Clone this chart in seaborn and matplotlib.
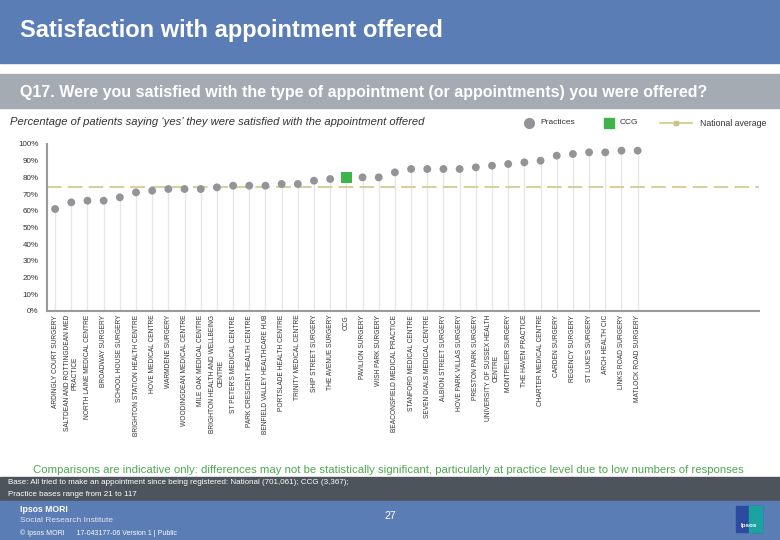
import matplotlib
matplotlib.use("Agg")
import matplotlib.pyplot as plt
import matplotlib.patches as mpatches
from matplotlib.lines import Line2D
import numpy as np
import pandas as pd
import seaborn as sns

# Datos del grafico
practices = [
    "ARDINGLY COURT SURGERY",
    "SALTDEAN AND ROTTINGDEAN MED\nPRACTICE",
    "NORTH LAINE MEDICAL CENTRE",
    "BROADWAY SURGERY",
    "SCHOOL HOUSE SURGERY",
    "BRIGHTON STATION HEALTH CENTRE",
    "HOVE MEDICAL CENTRE",
    "WARMDENE SURGERY",
    "WOODINGDEAN MEDICAL CENTRE",
    "MILE OAK MEDICAL CENTRE",
    "BRIGHTON HEALTH AND WELLBEING\nCENTRE",
    "ST PETER'S MEDICAL CENTRE",
    "PARK CRESCENT HEALTH CENTRE",
    "BENFIELD VALLEY HEALTHCARE HUB",
    "PORTSLADE HEALTH CENTRE",
    "TRINITY MEDICAL CENTRE",
    "SHIP STREET SURGERY",
    "THE AVENUE SURGERY",
    "CCG",
    "PAVILION SURGERY",
    "WISH PARK SURGERY",
    "BEACONSFIELD MEDICAL PRACTICE",
    "STANFORD MEDICAL CENTRE",
    "SEVEN DIALS MEDICAL CENTRE",
    "ALBION STREET SURGERY",
    "HOVE PARK VILLAS SURGERY",
    "PRESTON PARK SURGERY",
    "UNIVERSITY OF SUSSEX HEALTH\nCENTRE",
    "MONTPELIER SURGERY",
    "THE HAVEN PRACTICE",
    "CHARTER MEDICAL CENTRE",
    "CARDEN SURGERY",
    "REGENCY SURGERY",
    "ST LUKE'S SURGERY",
    "ARCH HEALTH CIC",
    "LINKS ROAD SURGERY",
    "MATLOCK ROAD SURGERY",
]
scores = [61, 65, 66, 66, 68, 71, 72, 73, 73, 73, 74, 75, 75, 75, 76, 76, 78, 79,
          80, 80, 80, 83, 85, 85, 85, 85, 86, 87, 88, 89, 90, 93, 94, 95, 95, 96, 96]
national_average = 74
n_slots = 44  # el eje deja huecos vacios a la derecha

df = pd.DataFrame({"name": practices, "score": scores})
df["pos"] = range(len(df))
df["kind"] = np.where(df["name"] == "CCG", "CCG", "Practice")

GREY_DOT = "#929498"
GREEN = "#3db54a"
NAT = "#d6d09c"
BLUE = "#5b7db5"

sns.set_theme(style="white")
plt.rcParams["font.family"] = ["Liberation Sans", "DejaVu Sans"]

fig = plt.figure(figsize=(7.8, 5.4), dpi=100)
ax = fig.add_axes([47 / 780, 1 - 310.7 / 540, (759 - 47) / 780, (310.7 - 144) / 540])

# Cabecera
fig.add_artist(mpatches.Rectangle((0, 1 - 63 / 540), 1, 63 / 540, transform=fig.transFigure,
                                  color=BLUE, zorder=0))
fig.add_artist(mpatches.Rectangle((0, 1 - 108 / 540), 1, 34 / 540, transform=fig.transFigure,
                                  color="#a5abb3", zorder=0))
fig.text(20 / 780, 1 - 31 / 540, "Satisfaction with appointment offered", color="white",
         fontsize=17, fontweight="bold", va="center", ha="left")
fig.text(20 / 780, 1 - 92 / 540,
         "Q17. Were you satisfied with the type of appointment (or appointments) you were offered?",
         color="white", fontsize=11.5, fontweight="bold", va="center", ha="left")
fig.text(10 / 780, 1 - 122 / 540,
         "Percentage of patients saying \u2018yes\u2019 they were satisfied with the appointment offered",
         color="#333333", fontsize=8.1, style="italic", va="center", ha="left")

# Lineas verticales hasta cada punto
ax.vlines(df["pos"], 0, df["score"] - 1.5, color="#e6e6e6", lw=1, zorder=1)

# Media nacional
ax.axhline(national_average, color=NAT, lw=1.5, ls=(0, (7, 3)), zorder=2)

sns.scatterplot(data=df[df["kind"] == "Practice"], x="pos", y="score", ax=ax,
                color=GREY_DOT, s=32, marker="o", edgecolor="none", zorder=3, legend=False)
sns.scatterplot(data=df[df["kind"] == "CCG"], x="pos", y="score", ax=ax,
                color=GREEN, s=62, marker="s", edgecolor="none", zorder=3, legend=False)

ax.set_xlim(-0.5, n_slots - 0.5)
ax.set_ylim(0, 100)
ax.set_yticks(range(0, 101, 10))
ax.set_yticklabels([f"{v}%" for v in range(0, 101, 10)], fontsize=5.8, color="#333333")
ax.set_xticks(df["pos"])
ax.set_xticklabels(df["name"], rotation=90, fontsize=4.8, color="#333333",
                   va="top", ha="center", multialignment="center")
ax.set_xticks(np.arange(-0.5, n_slots, 1), minor=True)
ax.tick_params(axis="x", which="major", length=0, pad=3)
ax.tick_params(axis="x", which="minor", length=3, width=1, color="#999999", direction="out")
ax.tick_params(axis="y", length=0, pad=6)
ax.set_xlabel("")
ax.set_ylabel("")
ax.grid(False)
for side in ["top", "right"]:
    ax.spines[side].set_visible(False)
for side in ["left", "bottom"]:
    ax.spines[side].set_color("#9a9a9a")
    ax.spines[side].set_linewidth(1.5)
ax.patch.set_alpha(0)

# Leyenda
fig.add_artist(Line2D([529 / 780], [1 - 123 / 540], marker="o", color=GREY_DOT, ms=7,
                      ls="none", transform=fig.transFigure))
fig.text(540 / 780, 1 - 123 / 540, "Practices", fontsize=6, color="#333333", va="center")
fig.add_artist(Line2D([609 / 780], [1 - 123 / 540], marker="s", color=GREEN, ms=7.5,
                      ls="none", transform=fig.transFigure))
fig.text(620 / 780, 1 - 123 / 540, "CCG", fontsize=6, color="#333333", va="center")
fig.add_artist(Line2D([660 / 780, 692 / 780], [1 - 123 / 540] * 2, color=NAT, lw=1.5,
                      transform=fig.transFigure))
fig.add_artist(Line2D([676 / 780], [1 - 123 / 540], marker="s", color="#c9c28a", ms=3,
                      ls="none", transform=fig.transFigure))
fig.text(700 / 780, 1 - 123 / 540, "National average", fontsize=6.3, color="#333333",
         va="center")

# Pie
fig.text(388 / 780, 1 - 470 / 540,
         "Comparisons are indicative only: differences may not be statistically significant, "
         "particularly at practice level due to low numbers of responses",
         color="#4ea852", fontsize=8.2, ha="center", va="center")
fig.add_artist(mpatches.Rectangle((0, 1 - 501 / 540), 1, 24 / 540, transform=fig.transFigure,
                                  color="#4d545c", zorder=0))
fig.add_artist(mpatches.Rectangle((0, 0), 1, 39 / 540, transform=fig.transFigure,
                                  color=BLUE, zorder=0))
fig.text(8 / 780, 1 - 483 / 540,
         "Base: All tried to make an appointment since being registered: National (701,061); CCG (3,367);",
         color="white", fontsize=5.75, va="center")
fig.text(8 / 780, 1 - 494 / 540, "Practice bases range from 21 to 117",
         color="white", fontsize=5.75, va="center")
fig.text(20 / 780, 1 - 509 / 540, "Ipsos MORI", color="white", fontsize=6.2, va="center",
         fontweight="bold")
fig.text(20 / 780, 1 - 521 / 540, "Social Research Institute", color="#dde6f2", fontsize=6,
         va="center")
fig.text(20 / 780, 1 - 533 / 540, "\u00a9 Ipsos MORI      17-043177-06 Version 1 | Public",
         color="white", fontsize=5, va="center")
fig.text(390 / 780, 1 - 516 / 540, "27", color="white", fontsize=7.5, ha="center", va="center")
fig.add_artist(mpatches.Rectangle((736 / 780, 1 - 532 / 540), 26 / 780, 26 / 540,
                                  transform=fig.transFigure, color="#2c4aa0", zorder=1))
fig.add_artist(mpatches.Rectangle((749 / 780, 1 - 532 / 540), 13 / 780, 26 / 540,
                                  transform=fig.transFigure, color="#1aa3a0", zorder=1))
fig.text(749 / 780, 1 - 525 / 540, "Ipsos", color="white", fontsize=4.5, ha="center",
         va="center", fontweight="bold")

fig.savefig("out.png", dpi=100)
